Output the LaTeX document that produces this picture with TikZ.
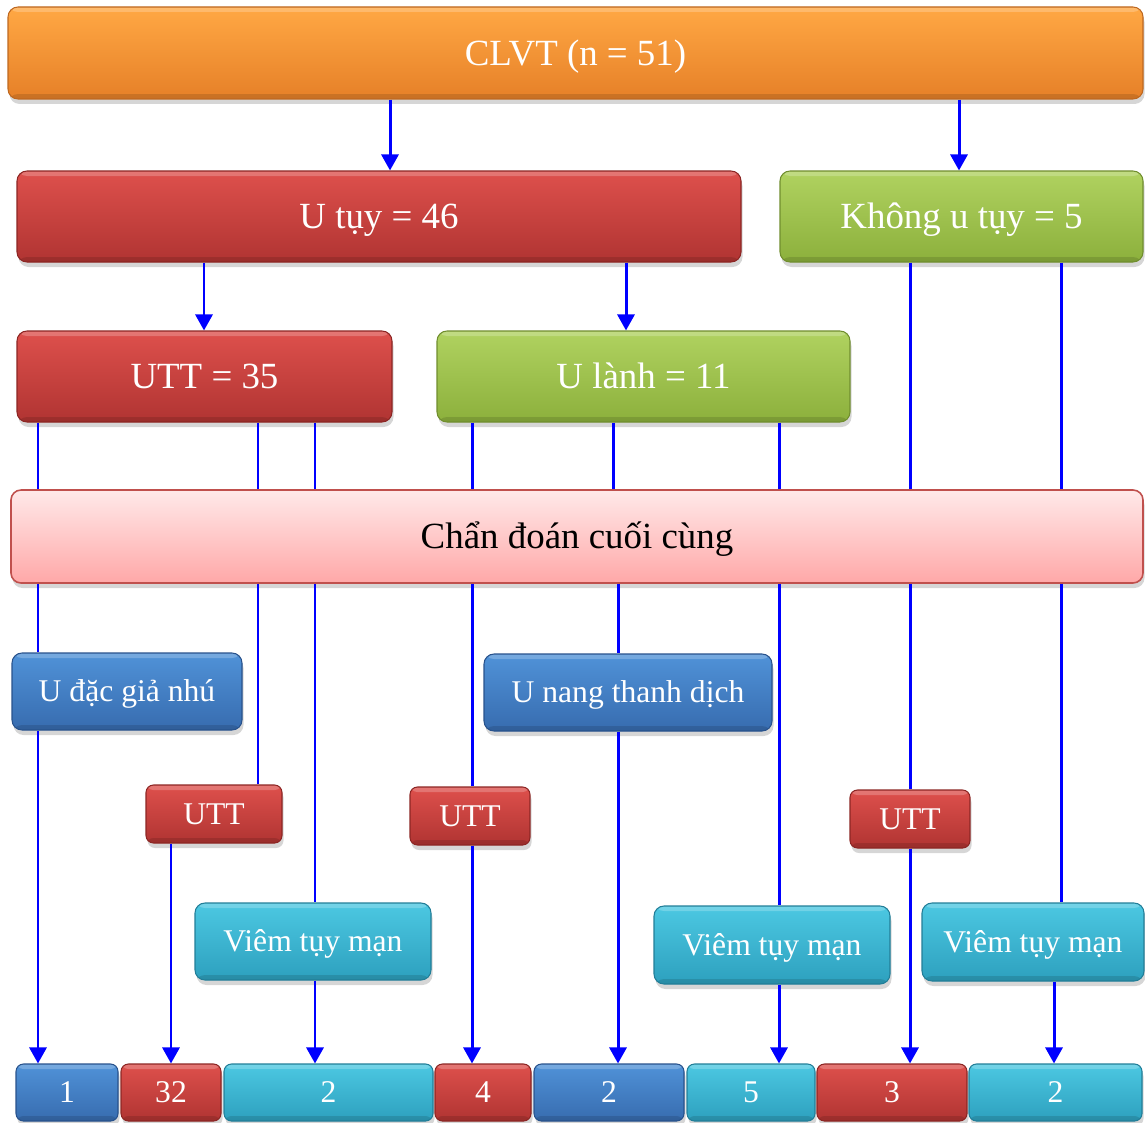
\documentclass[tikz,border=0pt]{standalone}
\usepackage{fontspec}
\setmainfont{Liberation Serif}
\usetikzlibrary{arrows.meta,shadows}

% fill colours (top / bottom of each gradient) and borders
\definecolor{orT}{RGB}{255,168,68}
\definecolor{orB}{RGB}{230,128,40}
\definecolor{orD}{RGB}{190,104,32}
\definecolor{rdT}{RGB}{222,80,76}
\definecolor{rdB}{RGB}{176,52,50}
\definecolor{rdD}{RGB}{140,38,36}
\definecolor{grT}{RGB}{176,210,96}
\definecolor{grB}{RGB}{140,176,60}
\definecolor{grD}{RGB}{112,142,46}
\definecolor{blT}{RGB}{80,146,216}
\definecolor{blB}{RGB}{55,108,175}
\definecolor{blD}{RGB}{40,82,140}
\definecolor{cyT}{RGB}{76,200,226}
\definecolor{cyB}{RGB}{45,160,190}
\definecolor{cyD}{RGB}{34,126,152}
\definecolor{pkT}{RGB}{255,233,233}
\definecolor{pkB}{RGB}{255,168,168}
\definecolor{pkD}{RGB}{192,80,77}

\tikzset{
  sz/.style 2 args={minimum width=#1*0.02cm, minimum height=#2*0.02cm},
  box/.style={rounded corners=0.2cm, inner sep=0pt, text=white, line width=0.6pt,
    font=\fontsize{18}{20}\selectfont, text height=11.9pt, text depth=0pt,
    drop shadow={shadow xshift=0.03cm, shadow yshift=-0.1cm, opacity=0.32}},
  gloss/.style={path picture={
    \fill[white, opacity=0.22] (path picture bounding box.north west)
      rectangle ([yshift=-0.1cm]path picture bounding box.north east);
    \fill[black, opacity=0.12] (path picture bounding box.south west)
      rectangle ([yshift=0.1cm]path picture bounding box.south east);}},
  big/.style={font=\fontsize{21}{24}\selectfont, text height=13.9pt},
  small/.style={rounded corners=0.15cm},
  orangebox/.style={box, gloss, draw=orD, top color=orT, bottom color=orB},
  redbox/.style={box, gloss, draw=rdD, top color=rdT, bottom color=rdB},
  greenbox/.style={box, gloss, draw=grD, top color=grT, bottom color=grB},
  bluebox/.style={box, gloss, draw=blD, top color=blT, bottom color=blB},
  cyanbox/.style={box, gloss, draw=cyD, top color=cyT, bottom color=cyB},
  pinkbox/.style={box, draw=pkD, line width=0.9pt, top color=pkT, bottom color=pkB, text=black},
  link/.style={draw=blue, line width=1.7pt},
  arr/.style={link, -{Triangle[length=0.32cm,width=0.34cm]}},
}

\begin{document}
\begin{tikzpicture}[x=0.02cm, y=-0.02cm]
\useasboundingbox (0,0) rectangle (1145,1122);

% connector columns
\coordinate (cA) at (390,0);
\coordinate (cB) at (959,0);
\coordinate (cC) at (204,0);
\coordinate (cD) at (626,0);
\coordinate (cE) at (38,0);
\coordinate (cF) at (258,0);
\coordinate (cG) at (315,0);
\coordinate (cH) at (472,0);
\coordinate (cI) at (613,0);
\coordinate (cI2) at (618,0);
\coordinate (cJ) at (779,0);
\coordinate (cK) at (910,0);
\coordinate (cL) at (1061,0);
\coordinate (cM) at (1054,0);
\coordinate (cN) at (171,0);

% upper levels
\node[orangebox, big, sz={1135}{92}] (clvt) at (575.5,53) {CLVT (n = 51)};
\node[redbox, big, sz={724}{91}] (utuy) at (379,216.5) {U tụy = 46};
\node[greenbox, big, sz={363}{91}] (khong) at (961.5,216.5) {Không u tụy = 5};
\node[redbox, big, sz={375}{91}] (utt35) at (204.5,376.5) {UTT = 35};
\node[greenbox, big, sz={413}{91}] (ulanh) at (643.5,376.5) {U lành = 11};
\node[pinkbox, big, sz={1132}{93}] (chan) at (577,536.5) {Chẩn đoán cuối cùng};

% final diagnoses
\node[bluebox, sz={230}{77}] (udac) at (127,691.5) {U đặc giả nhú};
\node[bluebox, sz={288}{77}] (unang) at (628,692.5) {U nang thanh dịch};
\node[redbox, small, sz={136}{58}] (uttA) at (214,814) {UTT};
\node[redbox, small, sz={120}{58}] (uttB) at (470,816) {UTT};
\node[redbox, small, sz={120}{58}] (uttC) at (910,819) {UTT};
\node[cyanbox, sz={236}{77}] (viemA) at (313,941.5) {Viêm tụy mạn};
\node[cyanbox, sz={236}{78}] (viemB) at (772,945) {Viêm tụy mạn};
\node[cyanbox, sz={222}{78}] (viemC) at (1033,942) {Viêm tụy mạn};

% counts
\node[bluebox, small, sz={102}{57}] (b1) at (67,1092.5) {1};
\node[redbox, small, sz={100}{57}] (b2) at (171,1092.5) {32};
\node[cyanbox, small, sz={209}{57}] (b3) at (328.5,1092.5) {2};
\node[redbox, small, sz={96}{57}] (b4) at (483,1092.5) {4};
\node[bluebox, small, sz={150}{57}] (b5) at (609,1092.5) {2};
\node[cyanbox, small, sz={128}{57}] (b6) at (751,1092.5) {5};
\node[redbox, small, sz={150}{57}] (b7) at (892,1092.5) {3};
\node[cyanbox, small, sz={173}{57}] (b8) at (1055.5,1092.5) {2};

% splits
\draw[arr] (clvt.south -| cA) -- (utuy.north -| cA);
\draw[arr] (clvt.south -| cB) -- (khong.north -| cB);
\draw[arr] (utuy.south -| cC) -- (utt35.north -| cC);
\draw[arr] (utuy.south -| cD) -- (ulanh.north -| cD);

% into the final diagnosis band
\foreach \c in {cE,cF,cG} \draw[link] (utt35.south -| \c) -- (chan.north -| \c);
\foreach \c in {cH,cI,cJ} \draw[link] (ulanh.south -| \c) -- (chan.north -| \c);
\foreach \c in {cK,cL} \draw[link] (khong.south -| \c) -- (chan.north -| \c);

% out of the final diagnosis band
\draw[link] (chan.south -| cE) -- (udac.north -| cE);
\draw[link] (chan.south -| cF) -- (uttA.north -| cF);
\draw[link] (chan.south -| cG) -- (viemA.north -| cG);
\draw[link] (chan.south -| cH) -- (uttB.north -| cH);
\draw[link] (chan.south -| cI2) -- (unang.north -| cI2);
\draw[link] (chan.south -| cJ) -- (viemB.north -| cJ);
\draw[link] (chan.south -| cK) -- (uttC.north -| cK);
\draw[link] (chan.south -| cL) -- (viemC.north -| cL);

% down to the counts
\draw[arr] (udac.south -| cE) -- (b1.north -| cE);
\draw[arr] (uttA.south -| cN) -- (b2.north -| cN);
\draw[arr] (viemA.south -| cG) -- (b3.north -| cG);
\draw[arr] (uttB.south -| cH) -- (b4.north -| cH);
\draw[arr] (unang.south -| cI2) -- (b5.north -| cI2);
\draw[arr] (viemB.south -| cJ) -- (b6.north -| cJ);
\draw[arr] (uttC.south -| cK) -- (b7.north -| cK);
\draw[arr] (viemC.south -| cM) -- (b8.north -| cM);
\end{tikzpicture}
\end{document}
